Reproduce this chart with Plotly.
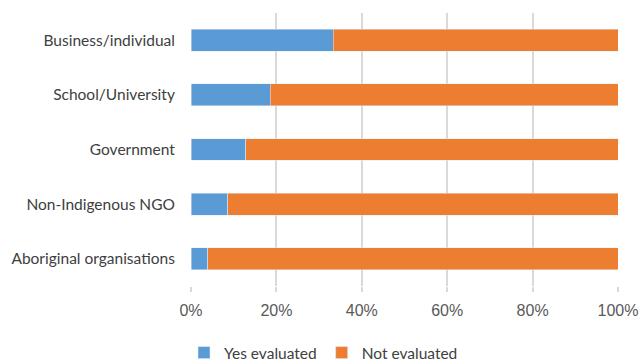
import plotly.graph_objects as go

categories = ["Business/individual", "School/University", "Government",
              "Non-Indigenous NGO", "Aboriginal organisations"]
yes_evaluated = [33.3, 18.6, 12.8, 8.6, 3.9]
not_evaluated = [100 - v for v in yes_evaluated]
tick_vals = [0, 20, 40, 60, 80, 100]
tick_text = ["0%", "20%", "40%", "60%", "80%", "100%"]

fig = go.Figure()
fig.add_trace(go.Bar(y=categories, x=yes_evaluated, orientation="h",
                     name="Yes evaluated", marker_color="#5b9bd5", width=0.4))
fig.add_trace(go.Bar(y=categories, x=not_evaluated, orientation="h",
                     name="Not evaluated", marker_color="#ed7d31", width=0.4))

fig.update_layout(
    barmode="stack",
    width=642, height=363,
    margin=dict(l=191, r=24, t=13, b=77, autoexpand=False),
    plot_bgcolor="white", paper_bgcolor="white",
    legend=dict(orientation="h", xref="container", yref="container",
                x=184 / 642, xanchor="left", y=1 - 353 / 363, yanchor="middle",
                font=dict(family="Lato", size=15.5, color="#404040"),
                traceorder="normal", tracegroupgap=0),
    xaxis=dict(range=[0, 100], tickvals=tick_vals, ticktext=tick_text,
               showgrid=True, gridcolor="#d9d9d9", gridwidth=1.5,
               zeroline=False, showline=False,
               ticks="outside", ticklen=5, tickcolor="#d9d9d9", tickwidth=1.5,
               ticklabelstandoff=5,
               tickfont=dict(family="Liberation Sans", size=16, color="#595959")),
    yaxis=dict(categoryorder="array", categoryarray=categories, autorange="reversed",
               showgrid=False, zeroline=False, showline=False,
               ticks="outside", ticklen=12, tickcolor="rgba(0,0,0,0)",
               tickfont=dict(family="Lato", size=15.5, color="#404040")),
)
fig.write_html("out.html")
